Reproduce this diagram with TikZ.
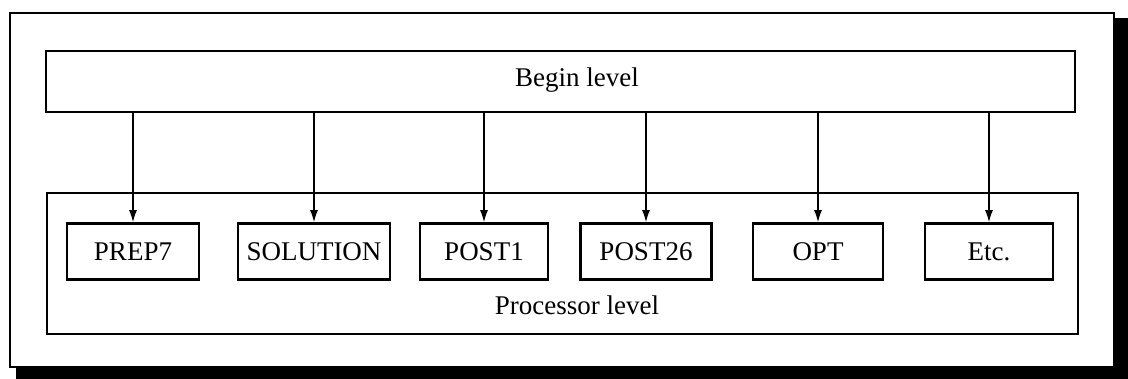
\documentclass[tikz,border=0pt]{standalone}
\usepackage{fontspec}
\setmainfont{Liberation Serif}
\usetikzlibrary{arrows.meta}
\begin{document}
\begin{tikzpicture}[x=1pt,y=-1pt,
  procbox/.style={draw,line width=2.6pt,rectangle,minimum height=56pt,inner sep=0pt,font=\fontsize{27}{31}\selectfont},
  levelbox/.style={draw,line width=2.6pt,rectangle,inner sep=0pt},
  lbl/.style={font=\fontsize{27}{31}\selectfont,inner sep=0pt},
  conn/.style={line width=1.4pt,-{Latex[length=12pt,width=8pt]}}]
\useasboundingbox (0,0) rectangle (1128,379);
% shadow and outer frame
\fill[black] (16,18) rectangle (1128,379);
\draw[line width=2.6pt,fill=white] (10,13) rectangle (1114,367);
% levels
\node[levelbox,minimum width=1029pt,minimum height=61pt] (begin) at (560.5,81.5) {};
\node[lbl] (beginlbl) at (577,80) {Begin level};
\node[levelbox,minimum width=1031pt,minimum height=141pt] (proc) at (562.5,263.5) {};
\node[lbl] (proclbl) at (577,305) {Processor level};
% processors
\node[procbox,minimum width=132pt] (prep) at (133,251.5) {PREP7};
\node[procbox,minimum width=152pt] (sol) at (314,251.5) {SOLUTION};
\node[procbox,minimum width=128pt] (post1) at (484,251.5) {POST1};
\node[procbox,minimum width=131pt] (post26) at (646,251.5) {POST26};
\node[procbox,minimum width=130pt] (opt) at (818,251.5) {OPT};
\node[procbox,minimum width=128pt] (etc) at (989,251.5) {Etc.};
% connectors
\foreach \n in {prep,sol,post1,post26,opt,etc}
  \draw[conn] (begin.south -| \n.north) -- (\n.north);
\end{tikzpicture}
\end{document}
